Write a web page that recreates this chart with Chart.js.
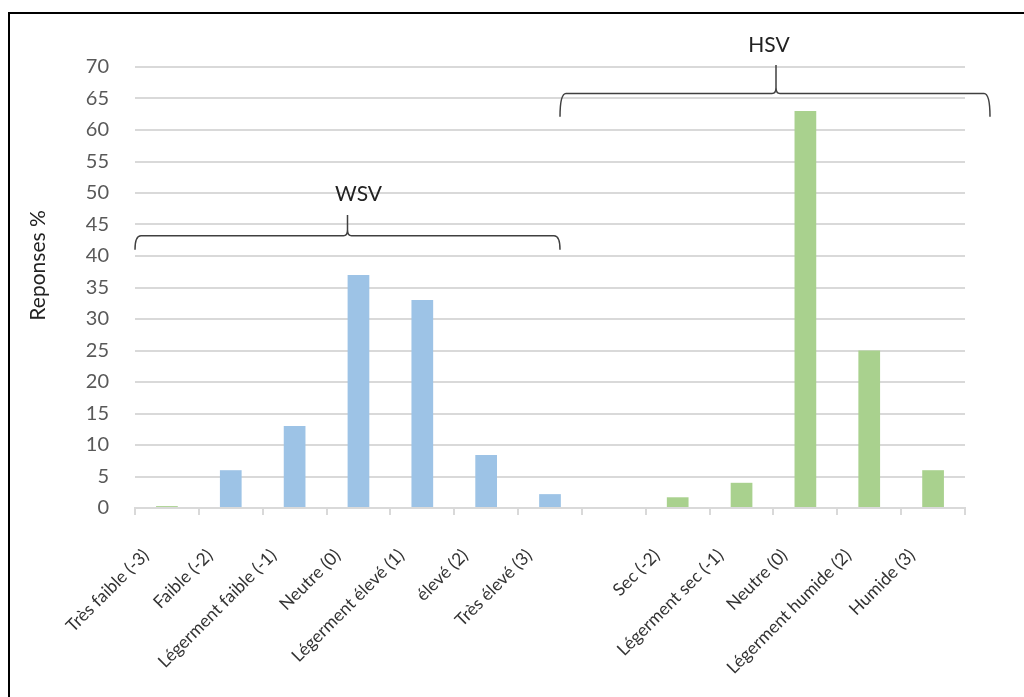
<!DOCTYPE html>
<html lang="fr">
<head>
<meta charset="utf-8">
<title>Reponses WSV / HSV</title>
<script src="https://cdn.jsdelivr.net/npm/chart.js@4/dist/chart.umd.min.js"></script>
<style>
  html, body { margin: 0; padding: 0; background: #fff; overflow: hidden; }
  #wrap { position: relative; width: 1024px; height: 697px; }
  #cadre {
    position: absolute; left: 8px; top: 12px; width: 1100px; height: 800px;
    border: 2px solid #000; pointer-events: none;
  }
  canvas { position: absolute; left: 0; top: 0; }
</style>
</head>
<body>
<div id="wrap">
  <canvas id="MiGrafica" width="1024" height="697"></canvas>
  <div id="cadre"></div>
</div>
<script>
// categories WSV, une colonne vide, puis HSV
const categoriesWsv = ['Très faible (-3)', 'Faible (-2)', 'Légerment faible (-1)', 'Neutre (0)', 'Légerment élevé (1)', 'élevé (2)', 'Très élevé (3)'];
const categoriesHsv = ['Sec (-2)', 'Légerment sec (-1)', 'Neutre (0)', 'Légerment humide (2)', 'Humide (3)'];
const valeursWsv = [0.3, 6, 13, 37, 33, 8.4, 2.2];
const valeursHsv = [1.7, 4, 63, 25, 6];
const ticksY = [0, 5, 10, 15, 20, 25, 30, 35, 40, 45, 50, 55, 60, 65, 70];

const labels = [...categoriesWsv, '', ...categoriesHsv];
const valeurs = [...valeursWsv, null, ...valeursHsv];

const bleu = '#9dc3e6';
const vert = '#a9d18e';
// la première barre WSV garde le remplissage vert
const couleurs = labels.map((l, i) => (i === 0 || i > categoriesWsv.length) ? vert : bleu);

const police = "Lato, 'Open Sans', sans-serif";

// accolades WSV / HSV au-dessus des barres, et titre de l'axe Y
const accolades = {
  id: 'accolades',
  afterDatasetsDraw(chart) {
    const ctx = chart.ctx;
    const xs = chart.scales.x;
    const ys = chart.scales.y;

    const accolade = (x1, x2, xm, yLigne, yBout, yPointe, texte, yTexte, xTexte) => {
      const r = 6;
      ctx.save();
      ctx.strokeStyle = '#404040';
      ctx.lineWidth = 1.5;
      ctx.beginPath();
      ctx.moveTo(x1, yBout);
      ctx.quadraticCurveTo(x1, yLigne, x1 + r, yLigne);
      ctx.lineTo(xm - 4, yLigne);
      ctx.quadraticCurveTo(xm, yLigne, xm, yLigne - 6);
      ctx.lineTo(xm, yPointe);
      ctx.moveTo(xm, yLigne - 6);
      ctx.quadraticCurveTo(xm, yLigne, xm + 4, yLigne);
      ctx.lineTo(x2 - r, yLigne);
      ctx.quadraticCurveTo(x2, yLigne, x2, yBout);
      ctx.stroke();
      ctx.fillStyle = '#222';
      ctx.font = '21px ' + police;
      ctx.textAlign = 'center';
      ctx.textBaseline = 'middle';
      ctx.fillText(texte, xTexte, yTexte);
      ctx.restore();
    };

    const debut = xs.getPixelForValue(0) - xs.width / labels.length / 2;
    const milieu = xs.getPixelForValue(categoriesWsv.length - 1) + 10;
    const fin = chart.chartArea.right + 25;

    accolade(debut, milieu, (debut + milieu) / 2,
      ys.getPixelForValue(43.2), ys.getPixelForValue(41), ys.getPixelForValue(46.5),
      'WSV', ys.getPixelForValue(49.8), (debut + milieu) / 2 + 11);

    accolade(milieu, fin, (milieu + fin) / 2 + 1,
      ys.getPixelForValue(65.8), ys.getPixelForValue(62.1), ys.getPixelForValue(70.3),
      'HSV', ys.getPixelForValue(73.5), (milieu + fin) / 2 - 6);

    // titre de l'axe Y, un peu au-dessus du milieu
    ctx.save();
    ctx.translate(38, ys.getPixelForValue(38.5));
    ctx.rotate(-Math.PI / 2);
    ctx.fillStyle = '#222';
    ctx.font = '21px ' + police;
    ctx.textAlign = 'center';
    ctx.textBaseline = 'middle';
    ctx.fillText('Reponses %', 0, 0);
    ctx.restore();
  }
};

const ctx = document.getElementById('MiGrafica').getContext('2d');
const myChart = new Chart(ctx, {
  type: 'bar',
  data: {
    labels: labels,
    datasets: [{
      label: 'Reponses %',
      data: valeurs,
      backgroundColor: couleurs,
      borderWidth: 0,
      barPercentage: 0.34,
      categoryPercentage: 1
    }]
  },
  options: {
    responsive: false,
    animation: false,
    layout: { padding: { top: 67, right: 59, left: 18, bottom: 0 } },
    plugins: {
      legend: { display: false },
      tooltip: { enabled: false }
    },
    scales: {
      x: {
        offset: true,
        afterFit: (axis) => { axis.height = 697 - 508; },
        grid: {
          offset: true,
          drawOnChartArea: false,
          drawTicks: true,
          tickLength: 7,
          color: '#d9d9d9',
          lineWidth: 2
        },
        border: { color: '#d9d9d9', width: 2 },
        ticks: {
          autoSkip: false,
          minRotation: 45,
          maxRotation: 45,
          padding: 30,
          labelOffset: -21,
          color: '#333',
          font: { family: police, size: 17.5 }
        }
      },
      y: {
        min: 0,
        max: 70,
        afterFit: (axis) => { axis.width = 135 - 18; },
        afterBuildTicks: (axis) => { axis.ticks = ticksY.map(v => ({ value: v })); },
        grid: { color: '#d9d9d9', lineWidth: 2, drawTicks: false },
        border: { display: false },
        title: { display: false },
        ticks: {
          padding: 26,
          color: '#595959',
          font: { family: police, size: 20 }
        }
      }
    }
  },
  plugins: [accolades]
});
</script>
</body>
</html>
